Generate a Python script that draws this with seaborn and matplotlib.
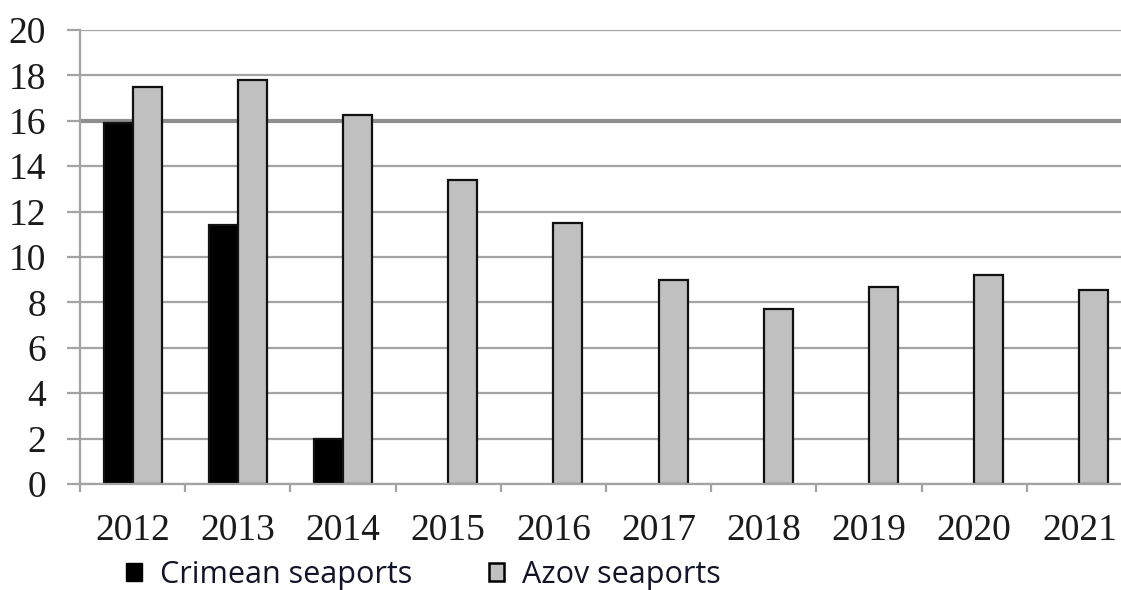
import numpy as np
import pandas as pd
import matplotlib
matplotlib.use("Agg")
import matplotlib.pyplot as plt
from matplotlib.patches import Patch
from matplotlib.ticker import MultipleLocator, FixedLocator
import seaborn as sns

# Cargo turnover by year (values on the y scale)
years = ["2012", "2013", "2014", "2015", "2016", "2017", "2018", "2019", "2020", "2021"]
crimean = [15.9, 11.4, 2.0, np.nan, np.nan, np.nan, np.nan, np.nan, np.nan, np.nan]
azov = [17.5, 17.8, 16.25, 13.4, 11.5, 9.0, 7.7, 8.7, 9.2, 8.55]
series_names = ["Crimean seaports", "Azov seaports"]
series_colors = ["#000000", "#c0c0c0"]

df = pd.DataFrame({
    "year": years * 2,
    "value": crimean + azov,
    "series": [series_names[0]] * len(years) + [series_names[1]] * len(years),
})

sns.set_theme(style="white")
plt.rcParams["font.family"] = ["Liberation Serif", "DejaVu Serif"]

fig = plt.figure(figsize=(11.21, 5.90), dpi=100)
ax = fig.add_axes([80 / 1121, 106 / 590, 1052 / 1121, 454 / 590])

sns.barplot(
    data=df, x="year", y="value", hue="series",
    order=years, hue_order=series_names,
    palette=series_colors, width=0.55, gap=0,
    edgecolor="#111111", linewidth=1.6,
    legend=False, ax=ax, errorbar=None,
)

grid_color = "#a3a3a3"
ax.set_ylim(0, 20)
ax.set_xlim(-0.5, len(years) - 0.5)
ax.yaxis.set_major_locator(MultipleLocator(2))
ax.set_axisbelow(True)
ax.yaxis.grid(True, color=grid_color, linewidth=1.6)
ax.xaxis.grid(False)

for side in ["top", "right"]:
    ax.spines[side].set_visible(False)
for side in ["left", "bottom"]:
    ax.spines[side].set_color(grid_color)
    ax.spines[side].set_linewidth(1.6)

ax.set_xlabel("")
ax.set_ylabel("")

# y ticks stick out to the left like gridline stubs
ax.tick_params(axis="y", which="major", left=True, length=9.5, width=1.6,
               color=grid_color, pad=15, labelsize=27, labelcolor="#1a1a1a")
# x labels at category centres, tick marks at category boundaries
ax.tick_params(axis="x", which="major", bottom=False, length=0, pad=21,
               labelsize=27, labelcolor="#1a1a1a")
ax.xaxis.set_minor_locator(FixedLocator(np.arange(-0.5, len(years), 1.0)))
ax.tick_params(axis="x", which="minor", bottom=True, length=6, width=1.6,
               color=grid_color)

handles = [
    Patch(facecolor=series_colors[0], edgecolor="#000000", linewidth=1.0),
    Patch(facecolor=series_colors[1], edgecolor="#000000", linewidth=1.8),
]
fig.legend(
    handles, series_names, loc="center", bbox_to_anchor=(0.378, 0.026),
    ncol=2, frameon=False, handlelength=0.5, handleheight=0.55,
    handletextpad=0.6, columnspacing=2.5,
    prop={"family": "Open Sans", "size": 22}, labelcolor="#141428",
)

# the 16 gridline is drawn heavier
fig.canvas.draw()
for tick in ax.yaxis.get_major_ticks():
    if abs(tick.get_loc() - 16) < 1e-9:
        tick.gridline.set_linewidth(3.0)
        tick.gridline.set_color("#8e8e8e")

fig.savefig("out.png", dpi=100)
